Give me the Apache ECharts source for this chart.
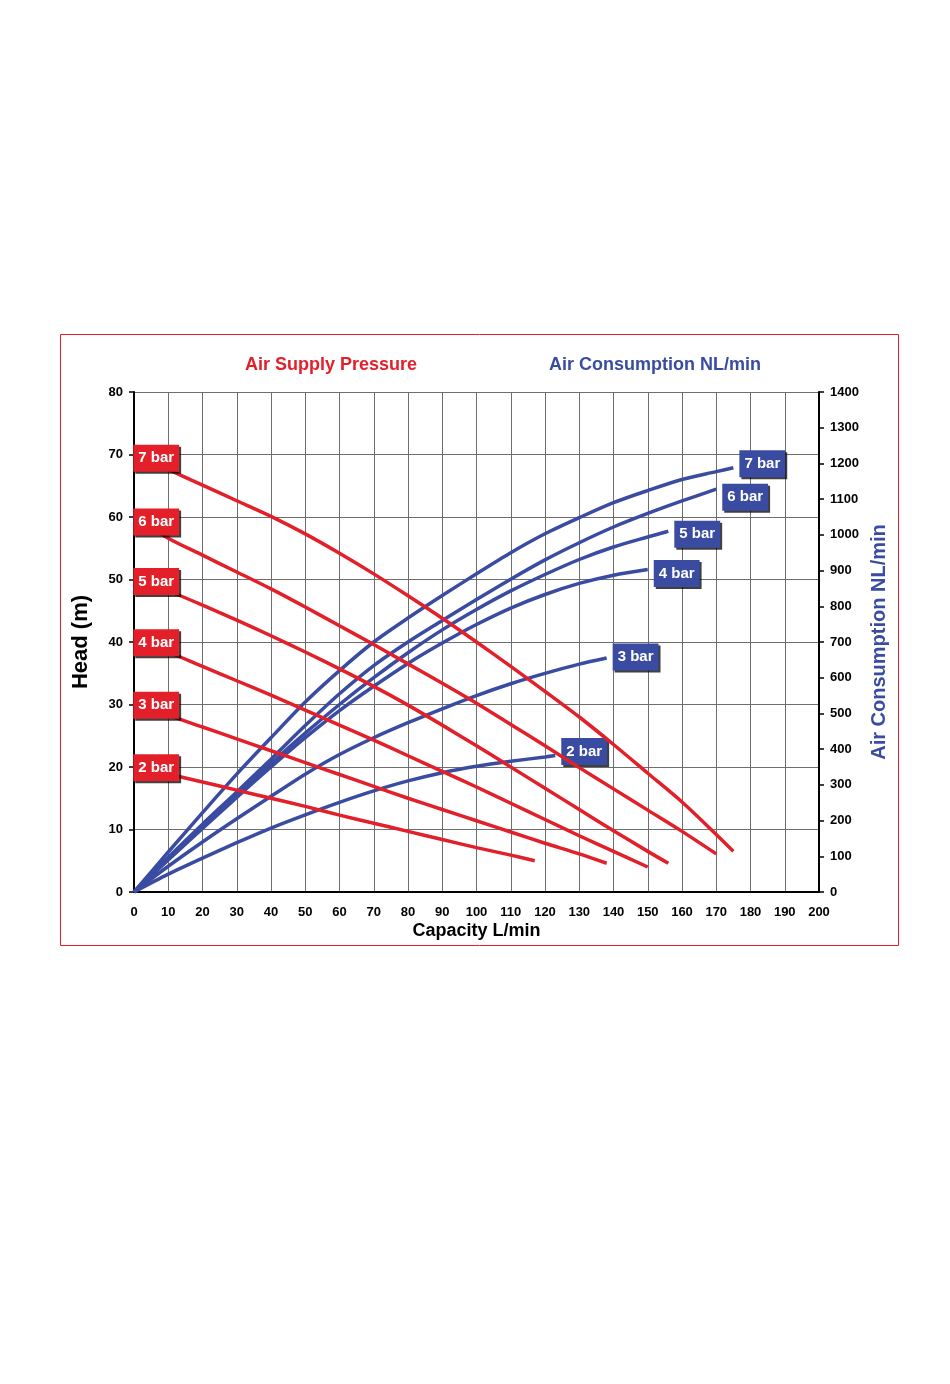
<!DOCTYPE html>
<html>
<head>
<meta charset="utf-8">
<title>Pump performance curves</title>
<script src="https://cdn.jsdelivr.net/npm/echarts@6/dist/echarts.min.js"></script>
<style>
  html, body { margin: 0; padding: 0; background: #fff; }
  #chart { width: 950px; height: 1384px; }
</style>
</head>
<body>
<div id="chart"></div>
<script>
// pressure labels
var pressures = ['7 bar', '6 bar', '5 bar', '4 bar', '3 bar', '2 bar'];

// head (m) against capacity (L/min)
var head7 = [[3,69.4],[10,67.6],[20,65.1],[30,62.6],[40,60.1],[50,57.3],[60,54.2],[70,50.9],[80,47.4],[90,43.8],[100,40.0],[110,36.1],[120,32.1],[130,28.0],[140,23.6],[150,19.0],[160,14.4],[170,9.2],[175,6.5]];
var head6 = [[3,59.2],[10,56.6],[20,53.9],[30,51.2],[40,48.5],[50,45.6],[60,42.6],[70,39.6],[80,36.5],[90,33.4],[100,30.2],[110,26.8],[120,23.4],[130,19.9],[140,16.5],[150,13.1],[160,9.7],[170,6.1]];
var head5 = [[3,49.7],[10,48.2],[20,45.9],[30,43.5],[40,41.0],[50,38.4],[60,35.7],[70,32.9],[80,29.9],[90,26.7],[100,23.4],[110,20.0],[120,16.6],[130,13.2],[140,9.8],[150,6.5],[156,4.6]];
var head4 = [[3,39.9],[10,38.4],[20,36.1],[30,33.8],[40,31.5],[50,29.1],[60,26.7],[70,24.3],[80,21.8],[90,19.3],[100,16.8],[110,14.2],[120,11.6],[130,9.0],[140,6.5],[150,4.0]];
var head3 = [[3,29.9],[10,28.3],[20,26.4],[30,24.5],[40,22.6],[50,20.7],[60,18.8],[70,16.9],[80,15.0],[90,13.2],[100,11.4],[110,9.6],[120,7.8],[130,6.1],[138,4.6]];
var head2 = [[3,19.9],[10,18.9],[20,17.6],[30,16.3],[40,15.0],[50,13.7],[60,12.3],[70,11.0],[80,9.7],[90,8.4],[100,7.1],[110,5.9],[117,5.0]];

// air consumption (NL/min) against capacity (L/min)
var air7 = [[0,0],[10,112],[20,222],[30,330],[40,432],[50,532],[60,620],[70,700],[80,767],[90,830],[100,891],[110,950],[120,1003],[130,1048],[140,1090],[150,1124],[160,1155],[170,1177],[175,1188]];
var air6 = [[0,0],[10,97],[20,190],[30,280],[40,372],[50,466],[60,555],[70,634],[80,700],[90,760],[100,819],[110,876],[120,930],[130,978],[140,1022],[150,1060],[160,1095],[170,1128]];
var air5 = [[0,0],[10,92],[20,183],[30,272],[40,360],[50,445],[60,525],[70,600],[80,670],[90,734],[100,791],[110,843],[120,889],[130,931],[140,966],[150,994],[156,1010]];
var air4 = [[0,0],[10,90],[20,178],[30,265],[40,350],[50,432],[60,508],[70,576],[80,640],[90,697],[100,749],[110,795],[120,833],[130,864],[140,887],[150,903]];
var air3 = [[0,0],[10,72],[20,140],[30,205],[40,268],[50,330],[60,385],[70,432],[80,474],[90,513],[100,550],[110,583],[120,612],[130,638],[138,655]];
var air2 = [[0,0],[10,50],[20,95],[30,138],[40,179],[50,216],[60,251],[70,283],[80,311],[90,334],[100,352],[110,366],[120,378],[123,382]];

var headData = [head7, head6, head5, head4, head3, head2];
var airData = [air7, air6, air5, air4, air3, air2];

var RED = '#e3202a';
var BLUE = '#3a4ca2';
var FONT = 'Liberation Sans, Arial, sans-serif';

// small nudges so the blue tags sit where the original puts them
var airTagShift = [[0, -4], [0, 8], [0, 3], [0, 4], [0, -1], [0, -4]];

var myChart = echarts.init(document.getElementById('chart'));

var boxLabel = function (bg) {
  return {
    show: true,
    color: '#fff',
    fontFamily: FONT,
    fontWeight: 'bold',
    fontSize: 15,
    lineHeight: 17,
    backgroundColor: bg,
    padding: [5, 5, 5, 5],
    shadowColor: 'rgba(0,0,0,0.75)',
    shadowOffsetX: 2,
    shadowOffsetY: 2
  };
};

var series = [];

// blue: air consumption on the right axis
airData.forEach(function (d, i) {
  var lab = boxLabel(BLUE);
  lab.formatter = pressures[i];
  lab.distance = 6;
  lab.offset = airTagShift[i];
  series.push({
    name: 'air ' + pressures[i],
    type: 'line',
    yAxisIndex: 1,
    data: d,
    smooth: 0.3,
    showSymbol: false,
    lineStyle: { color: BLUE, width: 3.5 },
    endLabel: lab,
    z: 2
  });
});

// red: head on the left axis, label on the first point
headData.forEach(function (d, i) {
  var lab = boxLabel(RED);
  lab.formatter = pressures[i];
  lab.position = 'right';
  lab.distance = 0;
  lab.offset = [-11, 0];
  series.push({
    name: 'head ' + pressures[i],
    type: 'line',
    yAxisIndex: 0,
    smooth: 0.3,
    symbol: 'circle',
    symbolSize: 0,
    showSymbol: true,
    showAllSymbol: true,
    itemStyle: { color: RED },
    lineStyle: { color: RED, width: 3.5 },
    data: d.map(function (p, k) {
      return k === 0 ? { value: p, label: lab } : p;
    }),
    z: 3
  });
});

var option = {
  animation: false,
  backgroundColor: '#fff',
  textStyle: { fontFamily: FONT },
  graphic: [
    {
      type: 'rect',
      shape: { x: 60.5, y: 334.5, width: 838, height: 611 },
      style: { fill: 'none', stroke: RED, lineWidth: 1 },
      silent: true
    },
    {
      type: 'text', x: 331, y: 365,
      style: { text: 'Air Supply Pressure', fill: RED, font: 'bold 18px ' + FONT, textAlign: 'center', textVerticalAlign: 'middle' }
    },
    {
      type: 'text', x: 655, y: 365,
      style: { text: 'Air Consumption NL/min', fill: BLUE, font: 'bold 18px ' + FONT, textAlign: 'center', textVerticalAlign: 'middle' }
    }
  ],
  grid: { left: 134, right: 131, top: 392, bottom: 492 },
  xAxis: {
    type: 'value',
    min: 0, max: 200, interval: 10,
    name: 'Capacity L/min',
    nameLocation: 'middle',
    nameGap: 30,
    nameTextStyle: { color: '#000', fontSize: 18, fontWeight: 'bold', fontFamily: FONT },
    axisLine: { lineStyle: { color: '#000', width: 2 } },
    axisTick: { show: false },
    axisLabel: { color: '#000', fontSize: 13, fontWeight: 'bold', margin: 14, fontFamily: FONT },
    splitLine: { show: true, lineStyle: { color: '#6e6e6e', width: 1 } }
  },
  yAxis: [
    {
      type: 'value',
      min: 0, max: 80, interval: 10,
      name: 'Head (m)',
      nameLocation: 'middle',
      nameGap: 42,
      nameTextStyle: { color: '#000', fontSize: 22, fontWeight: 'bold', fontFamily: FONT },
      axisLine: { show: true, lineStyle: { color: '#000', width: 2 } },
      axisTick: { show: true, length: 5, lineStyle: { color: '#000', width: 1.5 } },
      axisLabel: { color: '#000', fontSize: 13, fontWeight: 'bold', margin: 11, fontFamily: FONT },
      splitLine: { show: true, lineStyle: { color: '#6e6e6e', width: 1 } }
    },
    {
      type: 'value',
      position: 'right',
      min: 0, max: 1400, interval: 100,
      name: 'Air Consumption NL/min',
      nameLocation: 'middle',
      nameGap: 49,
      nameTextStyle: { color: BLUE, fontSize: 20, fontWeight: 'bold', fontFamily: FONT },
      axisLine: { show: true, lineStyle: { color: '#000', width: 2 } },
      axisTick: { show: true, length: 5, lineStyle: { color: '#000', width: 1.5 } },
      axisLabel: {
        color: '#000', fontSize: 13, fontWeight: 'bold', margin: 11, fontFamily: FONT,
        formatter: function (v) { return String(v); }
      },
      splitLine: { show: false }
    }
  ],
  series: series
};

myChart.setOption(option);
</script>
</body>
</html>
